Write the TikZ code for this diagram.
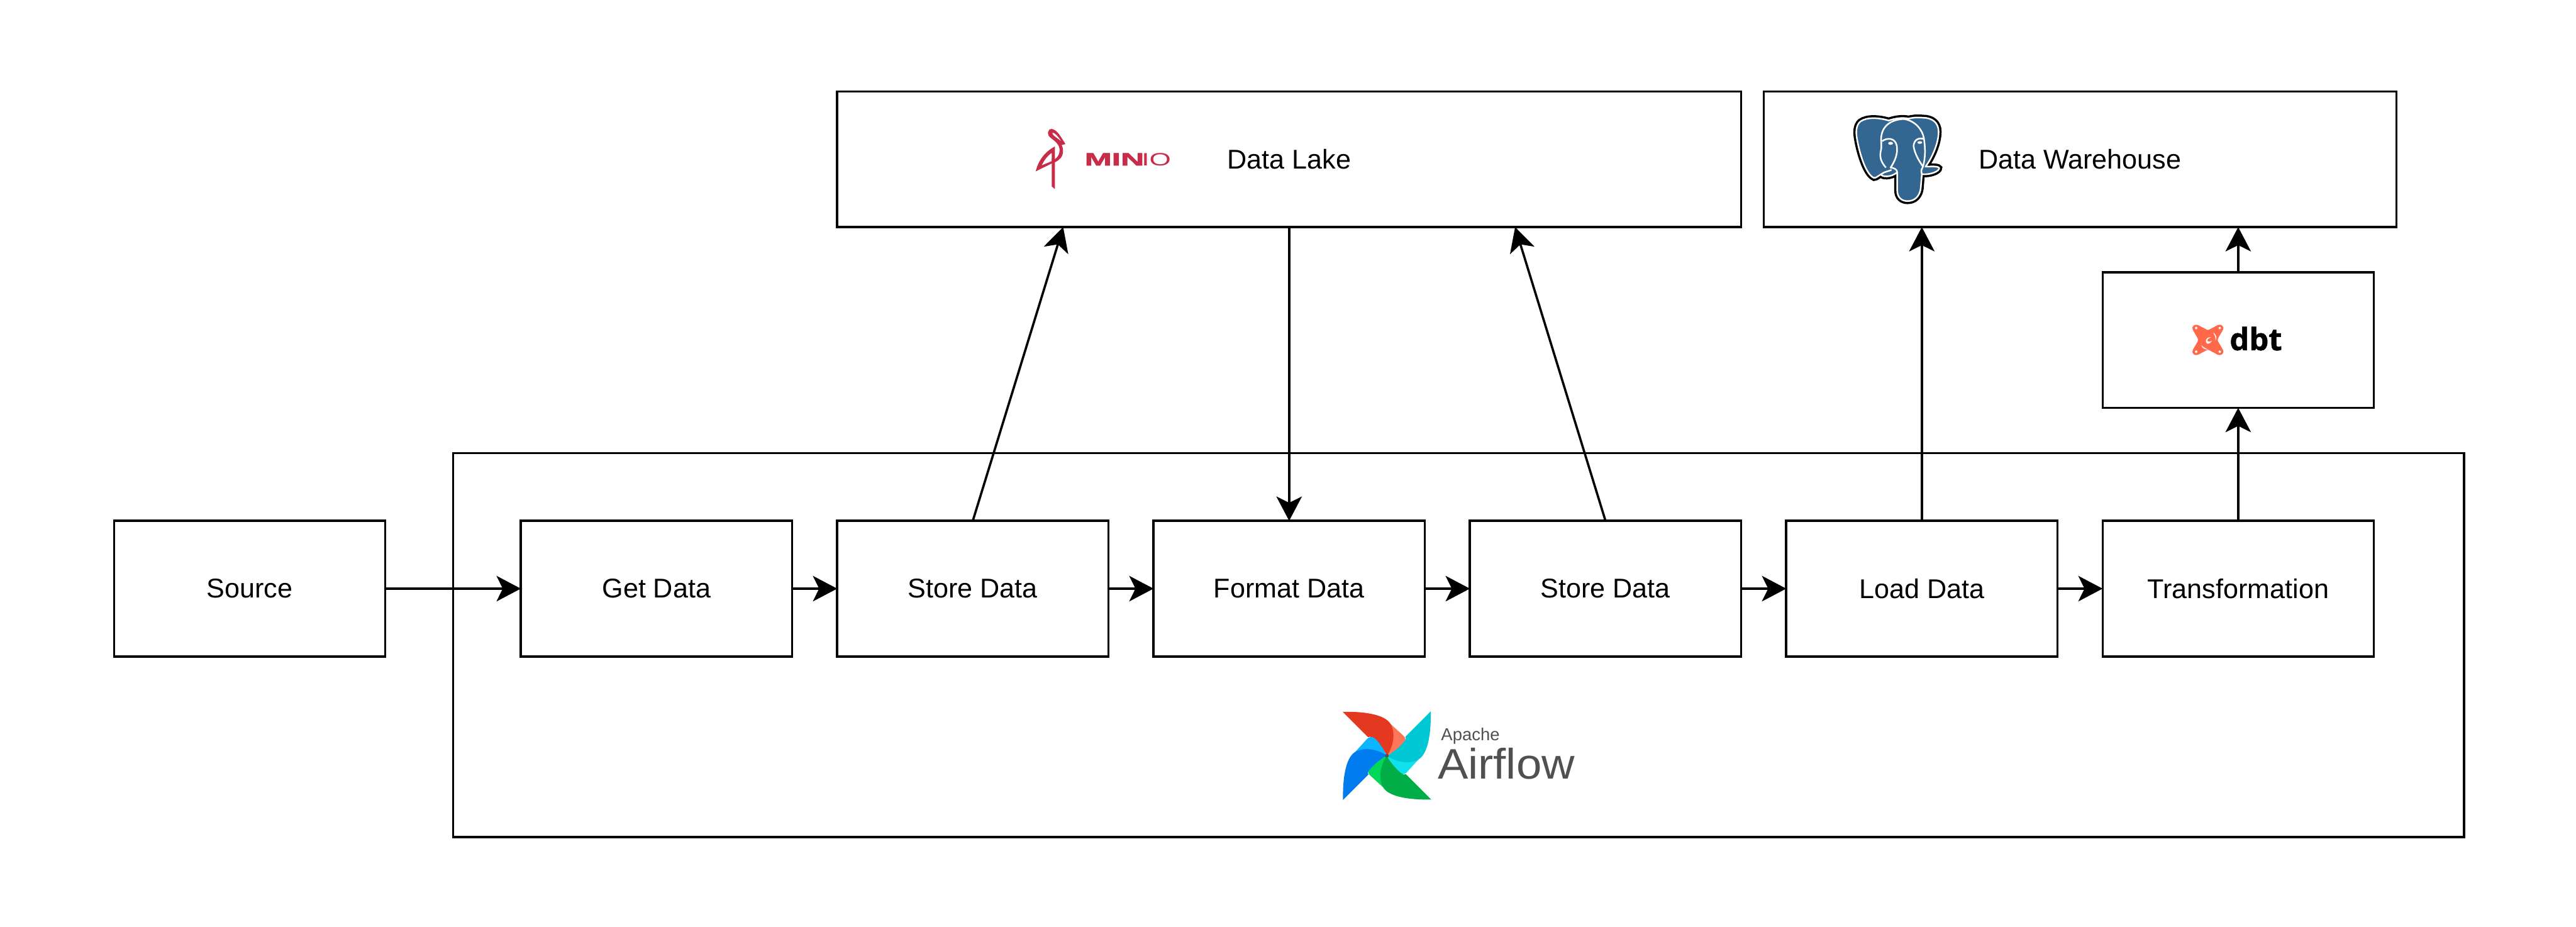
\documentclass[tikz,border=0pt]{standalone}
\usepackage{graphicx}
\usepackage{fontspec}
\setmainfont{Liberation Sans}
\newfontfamily\dbtfont[BoldFeatures={FakeBold=1}]{Open Sans}
\newfontfamily\miniofont[BoldFeatures={FakeBold=2}]{Liberation Sans}
\usetikzlibrary{arrows.meta,positioning,calc}
\definecolor{miniored}{RGB}{199,44,72}
\definecolor{pgblue}{RGB}{51,103,145}
\definecolor{dbtcoral}{RGB}{255,105,74}
\definecolor{flowgray}{RGB}{81,80,79}
\definecolor{redmain}{RGB}{228,57,33}
\definecolor{redlite}{RGB}{255,117,87}
\definecolor{cyanmain}{RGB}{0,199,212}
\definecolor{cyanlite}{RGB}{17,225,238}
\definecolor{greenmain}{RGB}{0,173,70}
\definecolor{greenlite}{RGB}{4,214,89}
\definecolor{bluemain}{RGB}{1,124,238}
\definecolor{bluelite}{RGB}{12,182,255}

\begin{document}
\begin{tikzpicture}[node distance=0.8cm,
		box/.style={draw, line width=0.4mm, outer sep=0pt, inner sep=0pt, minimum width=4.8cm, minimum height=2.4cm, font=\fontsize{13.66}{16}\selectfont},
		conn/.style={-{Stealth[length=4.3mm,width=4.5mm,inset=1.1mm]}, line width=0.4mm},
		logotext/.style={inner sep=0pt, outer sep=0pt, anchor=base west},
		crop/.style={x=0.033333mm, y=-0.033333mm}]
	\useasboundingbox (0,0) rectangle (45.6,-16.4);

	\node[box, minimum width=35.6cm, minimum height=6.8cm] (airflow) at (25.82,-11.42) {};
	\node[box] (src) at (4.42,-10.42) {Source};
	\node[box, right=2.4cm of src] (getdata) {Get Data};
	\node[box, right=of getdata] (storea) {Store Data};
	\node[box, right=of storea] (fmt) {Format Data};
	\node[box, right=of fmt] (storeb) {Store Data};
	\node[box, right=of storeb] (load) {Load Data};
	\node[box, right=of load] (trans) {Transformation};
	\node[box, above=5.2cm of fmt, minimum width=16cm] (lake) {Data Lake};
	\node[box, right=0.4cm of lake, minimum width=11.2cm] (dw) {Data Warehouse};
	\node[box, above=2cm of trans] (dbtbox) {};

	\draw[conn] (src) -- (getdata);
	\draw[conn] (getdata) -- (storea);
	\draw[conn] (storea) -- (fmt);
	\draw[conn] (fmt) -- (storeb);
	\draw[conn] (storeb) -- (load);
	\draw[conn] (load) -- (trans);
	\draw[conn] (storea.north) -- ($(lake.south west)!.25!(lake.south east)$);
	\draw[conn] (lake) -- (fmt);
	\draw[conn] (storeb.north) -- ($(lake.south west)!.75!(lake.south east)$);
	\draw[conn] (load.north) -- (load.north |- dw.south);
	\draw[conn] (trans) -- (dbtbox);
	\draw[conn] (dbtbox) -- (dbtbox |- dw.south);

	% minio logo
	\begin{scope}[shift={(17.80,-2.00)}, crop]
		\fill[miniored, even odd rule] (160,310) .. controls (175,250) and (210,205) .. (262,178) -- (262,260) -- cycle
			(192,278) .. controls (205,250) and (225,225) .. (245,212) -- (245,256) -- cycle;
		\fill[miniored] (245,240) -- (245,390) -- (262,404) -- (262,240) -- cycle;
		\fill[miniored, even odd rule] (318,165) .. controls (295,130) and (275,88) .. (245,85)
			.. controls (222,84) and (218,118) .. (240,132) .. controls (262,150) and (285,165) .. (287,195)
			.. controls (288,225) and (270,243) .. (245,256) -- (245,268) -- (262,262)
			.. controls (285,250) and (306,235) .. (305,200) .. controls (305,190) and (303,180) .. (298,170) -- cycle
			(250,104) .. controls (264,106) and (285,132) .. (297,152) .. controls (280,135) and (243,118) .. (250,104) -- cycle;
	\end{scope}
	\node[logotext, text=miniored] (minioa) at (19.20,-2.93) {\miniofont\fontsize{9}{9}\selectfont\scalebox{1.82}[1]{\bfseries MIN}};
	\node[logotext, text=miniored] (miniob) at (20.21,-2.93) {\fontsize{9}{9}\selectfont\scalebox{1.55}[1]{IO}};

	% postgres logo
	\begin{scope}[shift={(32.30,-1.80)}, crop]
		\draw[draw=white, fill=pgblue, line width=0.28mm, line join=round, preaction={draw=black, line width=1.06mm}]
			(340,100) .. controls (290,85) and (225,80) .. (190,105) .. controls (165,125) and (165,165) .. (172,200)
			.. controls (182,260) and (215,385) .. (262,405) .. controls (275,405) and (290,390) .. (300,385)
			.. controls (300,400) and (350,405) .. (385,375) -- (385,470) .. controls (385,510) and (410,528) .. (440,528)
			.. controls (480,528) and (505,500) .. (510,460) -- (516,385) .. controls (560,390) and (610,370) .. (608,352)
			.. controls (600,340) and (560,345) .. (535,345) .. controls (570,300) and (605,220) .. (605,160)
			.. controls (605,110) and (570,85) .. (520,85) .. controls (490,82) and (465,85) .. (445,90)
			.. controls (410,82) and (370,90) .. (340,100) -- cycle;
		\draw[white, line width=0.28mm, line join=round]
			(325,350) .. controls (300,320) and (292,300) .. (297,265) .. controls (305,240) and (298,210) .. (300,190)
			.. controls (305,130) and (350,95) .. (420,92) .. controls (480,100) and (520,150) .. (527,195)
			.. controls (535,250) and (535,300) .. (522,345) .. controls (515,355) and (510,365) .. (516,385);
		\draw[white, line width=0.28mm, line join=round]
			(305,210) .. controls (330,190) and (375,190) .. (383,235) .. controls (390,280) and (370,320) .. (350,350) .. controls (370,352) and (385,360) .. (385,375);
		\draw[white, line width=0.28mm, line join=round]
			(527,198) .. controls (500,190) and (475,200) .. (472,235) .. controls (478,280) and (505,320) .. (522,345);
		\draw[white, line width=0.28mm, line join=round]
			(300,385) .. controls (320,370) and (340,370) .. (355,362);
		\fill[white] (350,221) ellipse (13 and 8);
		\fill[white] (505,217) ellipse (13 and 7);
	\end{scope}

	% dbt logo
	\begin{scope}[shift={(38.40,-5.40)}, crop]
		\fill[dbtcoral, even odd rule] (152,106) -- (198,130) .. controls (203,133) and (208,133) .. (213,130)
			-- (258,106) .. controls (275,98) and (295,115) .. (285,132)
			-- (260,175) .. controls (256,182) and (256,188) .. (260,195)
			-- (285,238) .. controls (295,255) and (275,272) .. (258,264)
			-- (213,240) .. controls (208,237) and (203,237) .. (198,240)
			-- (152,264) .. controls (135,272) and (115,255) .. (125,238)
			-- (150,195) .. controls (154,188) and (154,182) .. (150,175)
			-- (125,132) .. controls (115,115) and (135,98) .. (152,106) -- cycle
			(143,122) circle (7) (268,122) circle (7) (143,248) circle (7) (268,248) circle (7);
		\fill[white] (232,146) .. controls (250,155) and (255,175) .. (245,190) .. controls (248,172) and (242,160) .. (232,146) -- cycle;
		\fill[white] (170,212) .. controls (180,225) and (195,232) .. (208,236) .. controls (190,238) and (175,230) .. (170,212) -- cycle;
		\fill[white] (222,172) .. controls (200,166) and (185,190) .. (200,205) .. controls (212,207) and (222,198) .. (226,190)
			.. controls (215,197) and (200,195) .. (202,185) .. controls (204,180) and (210,176) .. (222,172) -- cycle;
	\end{scope}
	\node[logotext] (dbtlabel) at (39.47,-6.20) {\dbtfont\bfseries\fontsize{15.5}{15}\selectfont dbt};

	% airflow logo
	\begin{scope}[shift={(23.40,-12.40)}, crop]
		\foreach \ang/\main/\lite in {0/redmain/redlite, -90/cyanmain/cyanlite, -180/greenmain/greenlite, -270/bluemain/bluelite} {
			\begin{scope}[rotate around={\ang:(345,293)}]
				\fill[\lite] (365,125) -- (436,190) .. controls (446,200) and (445,215) .. (440,225)
					.. controls (420,250) and (380,275) .. (345,293) -- cycle;
				\fill[\main] (110,60) -- (245,195) .. controls (250,190) and (260,192) .. (265,197)
					.. controls (290,215) and (325,255) .. (340,283) -- (345,293)
					.. controls (375,250) and (395,180) .. (365,125)
					.. controls (335,75) and (230,58) .. (110,60) -- cycle;
			\end{scope}
		}
		\fill[flowgray] (345,293) circle (10);
	\end{scope}
	\node[logotext, text=flowgray] (apachelabel) at (25.51,-13.11) {\fontsize{8.7}{9}\selectfont Apache};
	\node[logotext, text=flowgray] (airflowlabel) at (25.45,-13.79) {\fontsize{21.5}{22}\selectfont\scalebox{1.07}[1]{Airflow}};
\end{tikzpicture}
\end{document}
